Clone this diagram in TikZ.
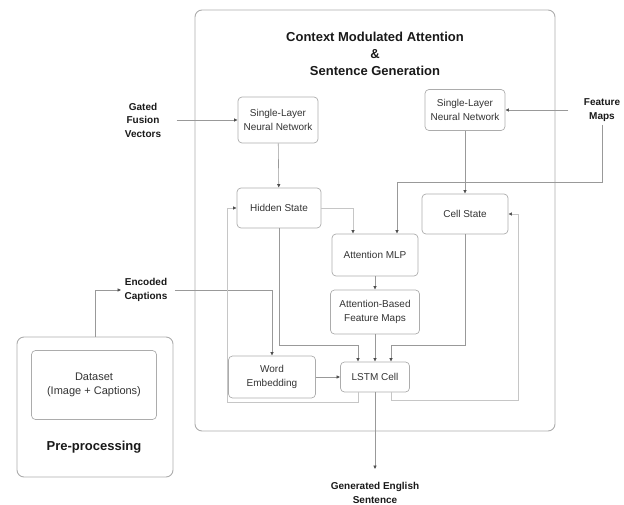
\documentclass[tikz,border=0pt]{standalone}
\usepackage{fontspec}
\setmainfont{Liberation Sans}
\usetikzlibrary{arrows.meta}
\begin{document}
\begin{tikzpicture}[x=1pt,y=-1pt,
  box/.style={draw=gray!65,rounded corners=4pt,line width=0.7pt,align=center,text=black!80,font=\fontsize{10}{13.5}\selectfont},
  lbl/.style={align=center,text=black!90,font=\fontsize{10}{13.5}\selectfont\bfseries},
  link/.style={draw=gray!80,line width=0.6pt,-{Latex[length=3.5pt,width=3.5pt,color=black!70]}},
  back/.style={link,draw=gray!45}]
\useasboundingbox (0,0) rectangle (624,504);

% frames
\node[box,line width=0.9pt,rounded corners=7pt,minimum width=360pt,minimum height=421pt] (cma) at (375,220.5) {};
\node[lbl,font=\fontsize{13}{17}\selectfont\bfseries] (title) at (375,54) {Context Modulated Attention\\\&\\Sentence Generation};
\node[box,line width=0.9pt,rounded corners=7pt,minimum width=156pt,minimum height=140pt] (prep) at (95,407) {};
\node[lbl,font=\fontsize{13}{17}\selectfont\bfseries] (preplbl) at (94,447) {Pre-processing};
\node[box,font=\fontsize{11}{14}\selectfont,minimum width=125pt,minimum height=69pt] (data) at (94,385) {Dataset\\(Image + Captions)};

% boxes
\node[box,minimum width=80pt,minimum height=46pt] (slnnl) at (278,120) {Single-Layer\\Neural Network};
\node[box,minimum width=80pt,minimum height=41pt] (slnnr) at (465,110) {Single-Layer\\Neural Network};
\node[box,minimum width=84pt,minimum height=40pt] (hidden) at (279,208) {Hidden State};
\node[box,minimum width=86pt,minimum height=40pt] (cell) at (465,214) {Cell State};
\node[box,minimum width=86pt,minimum height=42pt] (mlp) at (375,255) {Attention MLP};
\node[box,minimum width=89pt,minimum height=44pt] (abfm) at (375,312) {Attention-Based\\Feature Maps};
\node[box,minimum width=69pt,minimum height=30pt] (lstm) at (375,377) {LSTM Cell};
\node[box,minimum width=87pt,minimum height=42pt] (word) at (272,377) {Word\\Embedding};

% outside labels
\node[lbl] (gfv) at (143,120) {Gated\\Fusion\\Vectors};
\node[lbl] (fm) at (602,110) {Feature\\Maps};
\node[lbl] (ec) at (146,290) {Encoded\\Captions};
\node[lbl] (gen) at (375,493) {Generated English\\Sentence};

% inputs
\draw[link,shorten <=12pt] (gfv.east) -- (slnnl.west);
\draw[link,shorten <=12pt] (fm.west) -- (slnnr.east);
\draw[link] (fm.south) -- (fm.south |- 0,182) -| ([xshift=22pt]mlp.north);
\draw[link] (prep.north) |- (ec.west);
\draw[link,shorten <=4pt] (ec.east) -| (word.north);

% inside
\draw[link] (slnnl) -- (hidden);
\draw[link] (slnnr) -- (cell);
\draw[back] (hidden.east) -| ([xshift=-22pt]mlp.north);
\draw[link] (mlp) -- (abfm);
\draw[link] (abfm) -- (lstm);
\draw[link] (hidden.south) -- (hidden.south |- 0,345) -| ([xshift=-17pt]lstm.north);
\draw[link] (cell.south) -- (cell.south |- 0,345) -| ([xshift=16pt]lstm.north);
\draw[link] (word) -- (lstm);
\draw[link,shorten >=10pt] (lstm) -- (gen.north);

% feedback
\draw[back] ([xshift=-17pt]lstm.south) |- (227,402) |- (hidden.west);
\draw[back] ([xshift=16pt]lstm.south) |- (518,400) |- (cell.east);

\end{tikzpicture}
\end{document}
